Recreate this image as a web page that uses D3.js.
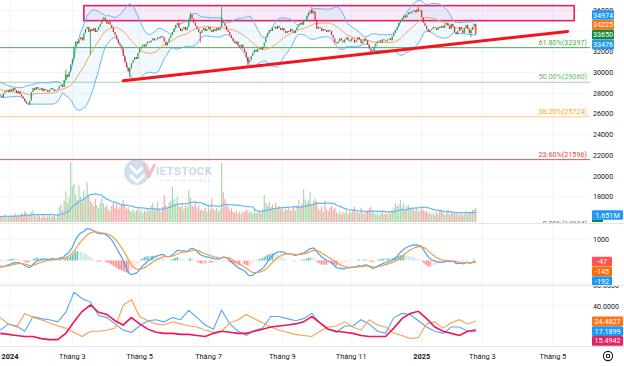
<!DOCTYPE html>
<html>
<head>
<meta charset="utf-8">
<script src="https://cdn.jsdelivr.net/npm/d3@7"></script>
<style>
  body { margin: 0; background: #fff; }
  svg { display: block; font-family: Roboto, "Noto Sans", sans-serif; }
</style>
</head>
<body>
<div id="chart"></div>
<script>
// late 2023 sessions, left of the frame (only feed the indicators)
var warmCloses = [29200, 29400, 29100, 29000, 29300, 29100, 28900, 29000, 28800, 28600,
  28900, 28700, 28500, 28700, 28400, 28600, 28300, 28100, 28400, 28200,
  28000, 28300, 28100, 27900, 28100, 27900];

// daily closes, one per session from late Dec 2023 to Feb 2025
var closes = [
  27800, 27600, 28000, 28200, 28300, 28100,
  28400, 28200, 28500, 28300, 28000, 28200, 27900, 27700, 27500, 27200,
  27000, 26900, 27300, 28100, 28500,
  28300, 28600, 28400, 28300, 28500, 28200, 28400, 28300, 28100, 28300, 28500, 28400, 28200, 28300, 28400,
  28700, 28800, 28600,
  29300, 29800, 29600, 30100,
  30800, 31300,
  32500, 33000,
  32800, 33200, 33400, 33100,
  33800, 34200, 34400, 33900, 34200,
  34000, 34300, 33900, 34100, 34400, 34700,
  35100, 35300,
  35000, 34700, 34900, 34600,
  34300, 33900, 33600,
  33200, 32800, 32600,
  32300, 31600, 31000,
  30500, 30100, 30400,
  30900, 31200, 31500, 31300,
  31900, 32300, 32500,
  32700, 32500, 32800, 33000, 32900, 33100, 33300, 33100, 33200, 33400, 33300, 33500, 33400,
  33000, 32600,
  32900, 33300, 33600, 33900,
  34300, 34600, 34800,
  34300, 34000, 34200, 34400, 34100, 34400,
  35100, 35600,
  35200, 34800, 34500, 34200, 33900, 33800,
  34100, 34300, 34000, 34200, 34400, 34100, 33900, 34200,
  34000, 34300, 34100, 34400,
  35000, 34800,
  34500, 34100, 33900, 33600, 33300, 33000,
  32800, 33000, 32600, 32400, 32700, 32300,
  32000, 31500, 31000, 31200,
  31600, 31900, 32200, 32000, 32300, 32400, 32200, 32500,
  32900, 33400, 33800, 34100,
  34000, 34300, 34400, 34200, 34500, 34300,
  34100, 34300, 34000, 33800, 34000, 33900, 34200, 34000, 33800, 34100,
  34400, 34600, 34800, 34600, 35000, 35100,
  35500, 35800, 36000, 35700, 35900,
  35000, 34200,
  34400, 34300, 34000, 34200, 34100, 33900, 34100, 34000,
  33600, 33300, 32900, 32800,
  33000, 33300, 33100, 32900, 33200, 33400, 33100, 33000, 33300, 33200, 32900, 33100,
  33400, 33200, 32800, 33000, 33300, 33100,
  32700, 32300, 32000, 32100, 32500,
  32800, 33000, 33100, 32900, 33200, 33100, 33000, 33200, 33300, 33100,
  33500, 33800, 34100, 34400, 34800, 35000,
  35200, 35500, 35300, 35600, 35800, 35700, 35900,
  36000, 35800, 36100, 35900, 36000,
  35300, 34800, 34500,
  34200, 33900, 34100,
  34200, 34400, 34300, 34100, 34400, 34300, 34500, 34300, 34600, 34800, 34500, 34200, 34700, 34400,
  33900, 33700, 34000,
  34400, 34100, 33800, 34300, 34600, 34200, 33800, 34100, 34400,
  34700, 33650
];

// daily volume, millions of shares
var volumes = [
  1.2, 1.5, 1.0, 1.8, 1.3, 1.1,
  1.4, 1.6, 1.2, 2.0, 1.3, 1.7, 1.5, 2.2, 1.8, 2.6,
  2.1, 1.5, 1.9, 2.4, 2.8,
  1.6, 1.2, 2.0, 1.4, 1.1, 1.7, 1.3, 1.0, 1.5, 1.8, 1.2, 1.4, 1.6, 1.1, 1.9,
  3.5, 4.2, 2.8,
  5.0, 7.3, 4.5, 6.0,
  14.2, 8.5,
  9.0, 6.5,
  5.2, 8.7, 6.0, 4.8,
  7.5, 5.5, 9.4, 6.2, 5.0,
  4.5, 3.8, 5.5, 4.0, 3.2, 4.6,
  5.8, 4.4,
  3.5, 4.0, 3.0, 2.6,
  3.8, 4.5, 3.3,
  4.2, 3.0, 3.6,
  4.4, 5.2, 3.9,
  3.1, 3.5, 2.8,
  2.4, 3.0, 2.2, 2.7,
  3.3, 2.5, 2.9,
  2.1, 2.8, 2.3, 3.5, 2.6, 3.9, 4.5, 2.8, 3.2, 4.8, 3.0, 2.5, 3.6,
  6.4, 4.0,
  3.4, 4.6, 5.0, 8.3,
  5.5, 4.2, 6.0,
  3.8, 3.5, 4.3, 3.0, 4.0, 3.6,
  7.5, 5.8,
  4.0, 3.6, 4.4, 3.2, 3.9, 2.8,
  3.0, 2.6, 3.4, 2.5, 3.8, 2.9, 5.6, 3.1,
  2.8, 3.3, 2.4, 3.0,
  14.0, 7.0,
  5.5, 4.0, 3.6, 2.7, 3.2, 2.5,
  2.2, 2.8, 2.0, 2.5, 1.9, 2.6,
  2.3, 3.0, 2.7, 2.2,
  2.5, 2.0, 2.7, 2.1, 2.4, 2.9, 2.2, 3.1,
  6.4, 4.5, 3.8, 4.8,
  3.5, 4.2, 3.0, 4.6, 3.2, 3.8,
  2.9, 3.6, 2.5, 3.1, 2.8, 3.4, 2.6, 3.0, 3.5, 2.7,
  4.0, 5.2, 3.6, 4.4, 7.8, 5.4,
  4.6, 5.2, 7.1, 4.2, 5.0,
  5.5, 4.8,
  3.2, 2.8, 3.6, 2.5, 5.0, 3.0, 2.6, 3.4,
  3.8, 2.9, 3.3, 2.4,
  2.0, 2.6, 1.8, 2.4, 2.1, 3.0, 1.9, 2.5, 2.2, 2.8, 3.6, 2.3,
  2.6, 2.0, 3.4, 2.2, 1.9, 2.5,
  2.8, 3.2, 3.6, 2.6, 2.2,
  1.8, 2.4, 1.6, 2.1, 2.8, 1.9, 2.3, 1.7, 2.5, 2.0,
  2.9, 3.4, 4.5, 3.8, 4.2, 5.2,
  3.6, 4.4, 3.0, 3.8, 4.1, 3.2, 3.5,
  3.0, 2.7, 3.3, 2.5, 2.9,
  3.6, 2.8, 2.4,
  2.6, 2.0, 2.3,
  1.8, 2.2, 1.6, 2.5, 1.9, 2.8, 3.0, 2.4, 1.7, 2.1, 2.9, 1.8, 2.6, 2.2,
  2.4, 1.9, 2.1,
  1.7, 2.3, 1.6, 2.0, 2.7, 1.8, 2.5, 2.2, 2.9,
  3.0, 3.3
];

// the longer shadows that stand out
var wicks = [
  { i: 40, hi: 30300 }, { i: 55, lo: 31700 }, { i: 79, lo: 29500 },
  { i: 116, hi: 35800 }, { i: 122, lo: 32900 }, { i: 135, hi: 36300 },
  { i: 151, lo: 30700 }, { i: 190, hi: 36300 }, { i: 227, lo: 31800 },
  { i: 255, hi: 36300 }, { i: 287, lo: 33400 }
];

// DMI read every 5 sessions
var dmiStep = 5;
var plusDI = [16, 22, 20, 15, 29, 27, 26, 24, 33, 52, 46, 43, 30, 28, 22, 16, 14, 20, 25, 26,
  24, 28, 26, 35, 28, 21, 17, 35, 22, 15, 11, 16, 18, 29, 29, 27, 25, 27, 32, 23,
  17, 14, 20, 20, 26, 22, 15, 13, 28, 32, 31, 25, 19, 15, 13, 19, 19, 15, 17.19];
var minusDI = [28, 22, 19, 32, 28, 26, 23, 20, 18, 14, 10, 15, 15, 16, 18, 40, 45, 29, 25, 22,
  21, 24, 22, 20, 19, 16, 14, 15, 23, 26, 31, 27, 23, 19, 16, 14, 12, 11, 10, 15,
  19, 20, 24, 19, 16, 26, 21, 19, 13, 11, 8, 9, 22, 24, 18, 23, 26, 22, 24.48];
var adx = [13, 12, 11, 10, 10, 8, 7, 7, 13, 24, 34, 40, 33, 31, 25, 21, 28, 22, 17, 14,
  13, 13, 12, 12, 11, 10, 13, 15, 14, 13, 13, 15, 17, 19, 20, 21, 22, 24, 29, 23,
  17, 15, 14, 13, 11, 10, 10, 10, 18, 27, 32, 34, 27, 19, 15, 13, 11, 15, 15.49];

var timeTicks = [
  { i: 6, label: '2024', year: true }, { i: 44, label: 'Tháng 3' }, { i: 85, label: 'Tháng 5' },
  { i: 127, label: 'Tháng 7' }, { i: 172, label: 'Tháng 9' }, { i: 214, label: 'Tháng 11' },
  { i: 257, label: '2025', year: true }, { i: 294, label: 'Tháng 3' }, { i: 337, label: 'Tháng 5' }
];
var priceTicks = [18000, 20000, 22000, 24000, 26000, 28000, 30000, 32000, 34000, 36000];
var macdTicks = [1000];
var dmiTicks = [40, 60];

var fibLevels = [
  { pct: '61.80%', v: 32397, color: '#4caf50' },
  { pct: '50.00%', v: 29060, color: '#66bb6a', line: '#a5d6a7' },
  { pct: '38.20%', v: 25724, color: '#ffa726', line: '#ffcc80' },
  { pct: '23.60%', v: 21596, color: '#f44336', line: '#ef5350' },
  { pct: '0.00%', v: 14924, color: '#787b86' }
];
var resistBox = { i0: 51, i1: 350, lo: 35000, hi: 36450 };
var trendLine = [{ i: 75, p: 29200 }, { i: 346, p: 33960 }];

var priceLabels = [
  { v: 34974, color: '#2196f3' }, { v: 34225, color: '#ff7417' },
  { v: 33650, color: '#13893a', anchor: true }, { v: 33476, color: '#2196f3' }
];
var volLabel = 1.651;
var macdLabels = [{ v: -47, color: '#ff5252', anchor: true }, { v: -145, color: '#ff6d00' }, { v: -192, color: '#2196f3' }];
var dmiLabels = [{ v: 24.4827, color: '#ff7417', anchor: true }, { v: 17.1899, color: '#2196f3' }, { v: 15.4942, color: '#e91e63' }];

var width = 624, height = 366, plotW = 590;
var pane = { price: [0, 223], macd: [224, 285], dmi: [286, 346] };

var svg = d3.select('#chart').append('svg').attr('width', width).attr('height', height);
var defs = svg.append('defs');
Object.keys(pane).forEach(function(k) {
  defs.append('clipPath').attr('id', 'clip-' + k).append('rect')
    .attr('x', 0).attr('y', pane[k][0]).attr('width', plotW).attr('height', pane[k][1] - pane[k][0]);
});

var x = d3.scaleLinear().domain([0, 359]).range([0.2, 589]);
var y = d3.scaleLinear().domain([18000, 36000]).range([196.9, 10.3]);
var vy = d3.scaleLinear().domain([0, 14.2]).range([222, 162]);
var my = d3.scaleLinear().domain([0, 1000]).range([260.5, 239]);
var dy = d3.scaleLinear().domain([0, 60]).range([347, 284]);

// indicators
var W = warmCloses.length, N = closes.length;
var all = warmCloses.concat(closes);
function ema(arr, n) {
  var k = 2 / (n + 1), prev, out = [];
  arr.forEach(function(v, i) { prev = i === 0 ? v : v * k + prev * (1 - k); out.push(prev); });
  return out;
}
var bb = closes.map(function(c, i) {
  var win = all.slice(i + W - 19, i + W + 1);
  var m = d3.mean(win), sd = Math.sqrt(d3.mean(win, function(v) { return (v - m) * (v - m); }));
  return { i: i, mid: m, up: m + 2 * sd, lo: m - 2 * sd };
});
var e12 = ema(all, 12), e26 = ema(all, 26);
var macdAll = e12.map(function(v, i) { return v - e26[i]; });
var sigAll = ema(macdAll, 9);
var macd = closes.map(function(c, i) {
  var m = macdAll[i + W], s = sigAll[i + W];
  return { i: i, m: m, s: s, h: m - s };
});
var volMA = volumes.map(function(v, i) {
  return { i: i, v: d3.mean(volumes.slice(Math.max(0, i - 19), i + 1)) };
});
var candles = closes.map(function(c, i) {
  var o = i === 0 ? warmCloses[W - 1] : closes[i - 1];
  return { i: i, o: o, c: c, up: c >= o };
});

// grid
var grid = svg.append('g');
timeTicks.forEach(function(t) {
  grid.append('line').attr('x1', x(t.i)).attr('x2', x(t.i)).attr('y1', 0).attr('y2', 346)
    .attr('stroke', '#f0f3fa').attr('stroke-width', 1);
});
priceTicks.forEach(function(p) {
  grid.append('line').attr('x1', 0).attr('x2', plotW).attr('y1', y(p)).attr('y2', y(p))
    .attr('stroke', '#f3f4f8');
});
macdTicks.forEach(function(v) {
  grid.append('line').attr('x1', 0).attr('x2', plotW).attr('y1', my(v)).attr('y2', my(v)).attr('stroke', '#f3f4f8');
});
dmiTicks.forEach(function(v) {
  grid.append('line').attr('x1', 0).attr('x2', plotW).attr('y1', dy(v)).attr('y2', dy(v)).attr('stroke', '#f3f4f8');
});

// ----- price pane -----
var gp = svg.append('g').attr('clip-path', 'url(#clip-price)');

// watermark
var wm = gp.append('g').attr('transform', 'translate(137,172)').attr('opacity', 0.55);
wm.append('circle').attr('r', 13).attr('fill', '#a9c7e6');
wm.append('path').attr('d', 'M-7,-6 L0,1 L7,-6 M-7,3 L0,10 L7,3').attr('fill', 'none')
  .attr('stroke', '#fff').attr('stroke-width', 3);
wm.append('path').attr('d', 'M6,-8 L12,4 L18,-8').attr('fill', 'none').attr('stroke', '#f08a8a').attr('stroke-width', 3);
wm.append('text').attr('x', 19).attr('y', 3).attr('font-size', 11).attr('font-weight', 700)
  .attr('fill', '#9fbbdb').attr('letter-spacing', 0.6).text('IETSTOCK');
wm.append('text').attr('x', 24).attr('y', 10).attr('font-size', 3.5).attr('fill', '#9fbbdb')
  .attr('letter-spacing', 1.6).text('FINTECH GLOBAL');

// fibonacci levels
fibLevels.forEach(function(f) {
  gp.append('line').attr('x1', 0).attr('x2', plotW).attr('y1', y(f.v)).attr('y2', y(f.v))
    .attr('stroke', f.line || f.color).attr('stroke-width', 1);
  gp.append('text').attr('x', 587).attr('y', y(f.v) - 3).attr('text-anchor', 'end')
    .attr('font-size', 7.2).attr('fill', f.color).text(f.pct + '(' + f.v + ')');
});

// resistance box
gp.append('rect').attr('x', x(resistBox.i0)).attr('y', y(resistBox.hi))
  .attr('width', x(resistBox.i1) - x(resistBox.i0)).attr('height', y(resistBox.lo) - y(resistBox.hi))
  .attr('fill', 'rgba(156,39,176,0.09)').attr('stroke', '#e91e63').attr('stroke-width', 1.6);

// bollinger bands
gp.append('path').datum(bb)
  .attr('d', d3.area().x(function(d) { return x(d.i); }).y0(function(d) { return y(d.lo); }).y1(function(d) { return y(d.up); }))
  .attr('fill', 'rgba(33,150,243,0.06)');
['up', 'lo'].forEach(function(k) {
  gp.append('path').datum(bb)
    .attr('d', d3.line().x(function(d) { return x(d.i); }).y(function(d) { return y(d[k]); }))
    .attr('fill', 'none').attr('stroke', '#64b5f6').attr('stroke-width', 1);
});
gp.append('path').datum(bb)
  .attr('d', d3.line().x(function(d) { return x(d.i); }).y(function(d) { return y(d.mid); }))
  .attr('fill', 'none').attr('stroke', '#f6a35e').attr('stroke-width', 1);

// volume
gp.selectAll('.vol').data(volumes).enter().append('rect')
  .attr('x', function(d, i) { return x(i) - 0.6; }).attr('width', 1.2)
  .attr('y', function(d) { return vy(d); }).attr('height', function(d) { return 222 - vy(d); })
  .attr('fill', function(d, i) { return candles[i].up ? '#a9d9ab' : '#f7a8a8'; });
gp.append('path').datum(volMA)
  .attr('d', d3.line().x(function(d) { return x(d.i); }).y(function(d) { return vy(d.v); }))
  .attr('fill', 'none').attr('stroke', '#64b5f6').attr('stroke-width', 1.2);

// trend line
gp.append('line').attr('x1', x(trendLine[0].i)).attr('y1', y(trendLine[0].p))
  .attr('x2', x(trendLine[1].i)).attr('y2', y(trendLine[1].p))
  .attr('stroke', '#f5131e').attr('stroke-width', 3).attr('stroke-linecap', 'round');

// candles
var upC = '#1f9e3b', dnC = '#ec1c2c';
wicks.forEach(function(w) {
  var c = candles[w.i];
  var top = Math.max(c.o, c.c), bot = Math.min(c.o, c.c);
  gp.append('line').attr('x1', x(w.i)).attr('x2', x(w.i))
    .attr('y1', y(w.hi || top)).attr('y2', y(w.lo || bot))
    .attr('stroke', c.up ? upC : dnC).attr('stroke-width', 0.8);
});
gp.selectAll('.candle').data(candles).enter().append('rect')
  .attr('x', function(d) { return x(d.i) - 0.6; }).attr('width', 1.2)
  .attr('y', function(d) { return y(Math.max(d.o, d.c)); })
  .attr('height', function(d) { return Math.max(0.8, Math.abs(y(d.o) - y(d.c))); })
  .attr('fill', function(d) { return d.up ? upC : dnC; });

// ----- MACD pane -----
var gm = svg.append('g').attr('clip-path', 'url(#clip-macd)');
gm.selectAll('.hist').data(macd).enter().append('rect')
  .attr('x', function(d) { return x(d.i) - 0.55; }).attr('width', 1.1)
  .attr('y', function(d) { return Math.min(my(d.h), my(0)); })
  .attr('height', function(d) { return Math.abs(my(d.h) - my(0)); })
  .attr('fill', function(d, i) {
    var prev = i > 0 ? macd[i - 1].h : d.h;
    if (d.h >= 0) return d.h >= prev ? '#26a69a' : '#b2dfdb';
    return d.h < prev ? '#ff5252' : '#ffcdd2';
  }).attr('opacity', 0.75);
gm.append('path').datum(macd)
  .attr('d', d3.line().x(function(d) { return x(d.i); }).y(function(d) { return my(d.m); }))
  .attr('fill', 'none').attr('stroke', '#4aa3f0').attr('stroke-width', 1.2);
gm.append('path').datum(macd)
  .attr('d', d3.line().x(function(d) { return x(d.i); }).y(function(d) { return my(d.s); }))
  .attr('fill', 'none').attr('stroke', '#f59a45').attr('stroke-width', 1.2);

// ----- DMI pane -----
var gd = svg.append('g').attr('clip-path', 'url(#clip-dmi)');
[[plusDI, '#55a8f0', 1.1], [minusDI, '#f7a04f', 1.1], [adx, '#f0145a', 1.6]].forEach(function(s) {
  gd.append('path').datum(s[0])
    .attr('d', d3.line().x(function(d, k) { return x(k * dmiStep); }).y(function(d) { return dy(d); }))
    .attr('fill', 'none').attr('stroke', s[1]).attr('stroke-width', s[2]);
});

// pane separators
[223.5, 285.5, 346.5].forEach(function(yy) {
  svg.append('line').attr('x1', 0).attr('x2', width).attr('y1', yy).attr('y2', yy)
    .attr('stroke', '#e3e5ea').attr('stroke-width', 1.2);
});

// ----- right axis -----
var axis = svg.append('g').attr('font-size', 7.2).attr('fill', '#131722');
defs.append('clipPath').attr('id', 'clip-axprice').append('rect').attr('x', 590).attr('y', 0).attr('width', 34).attr('height', 222);
defs.append('clipPath').attr('id', 'clip-axmacd').append('rect').attr('x', 590).attr('y', 224).attr('width', 34).attr('height', 61);
defs.append('clipPath').attr('id', 'clip-axdmi').append('rect').attr('x', 590).attr('y', 286).attr('width', 34).attr('height', 60);
var axP = axis.append('g').attr('clip-path', 'url(#clip-axprice)');
var axM = axis.append('g').attr('clip-path', 'url(#clip-axmacd)');
var axD = axis.append('g').attr('clip-path', 'url(#clip-axdmi)');

function stack(labels, scale, gap) {
  var a = labels.findIndex(function(d) { return d.anchor; });
  var ys = labels.map(function(d) { return scale(d.v); });
  var out = ys.slice();
  for (var k = a - 1; k >= 0; k--) out[k] = Math.min(ys[k], out[k + 1] - gap);
  for (var k2 = a + 1; k2 < labels.length; k2++) out[k2] = Math.max(ys[k2], out[k2 - 1] + gap);
  return out;
}
var priceLY = stack(priceLabels, y, 9.8);
// tick texts that sit fully under a value box are hidden, as on the original
function covered(yy, ly) {
  return ly.some(function(b) { return Math.abs(b - yy) < 4.5; });
}
priceTicks.forEach(function(p) {
  if (covered(y(p), priceLY)) return;
  axP.append('text').attr('x', 593).attr('y', y(p) + 2.5).text(p);
});
macdTicks.forEach(function(v) { axM.append('text').attr('x', 593).attr('y', my(v) + 2.5).text(v); });
dmiTicks.forEach(function(v) { axD.append('text').attr('x', 593).attr('y', dy(v) + 4).text(v.toFixed(4)); });

function boxes(g, labels, ly, w, fmt) {
  labels.forEach(function(d, k) {
    g.append('rect').attr('x', 592).attr('y', ly[k] - 4.8).attr('width', w).attr('height', 9.6)
      .attr('rx', 1).attr('fill', d.color);
    g.append('text').attr('x', 592 + w / 2).attr('y', ly[k] + 2.6).attr('text-anchor', 'middle')
      .attr('fill', '#fff').attr('font-size', 7.2).text(fmt(d.v));
  });
}
boxes(axP, priceLabels, priceLY, 22, function(v) { return v; });
axP.append('rect').attr('x', 592).attr('y', 219.5).attr('width', 11).attr('height', 8).attr('fill', '#13893a');
axP.append('rect').attr('x', 592).attr('y', vy(volLabel) - 4.8).attr('width', 31).attr('height', 9.6).attr('rx', 1).attr('fill', '#2196f3');
axP.append('text').attr('x', 607.5).attr('y', vy(volLabel) + 2.6).attr('text-anchor', 'middle')
  .attr('fill', '#fff').text(volLabel.toFixed(3) + 'M');
boxes(axM, macdLabels, stack(macdLabels, my, 9.8), 20, function(v) { return v; });
boxes(axD, dmiLabels, stack(dmiLabels, dy, 9.8), 31, function(v) { return v.toFixed(4); });

// ----- time axis -----
timeTicks.forEach(function(t) {
  svg.append('text').attr('x', x(t.i)).attr('y', 358.5).attr('text-anchor', 'middle')
    .attr('font-size', 7.4).attr('font-weight', t.year ? 700 : 400).attr('fill', '#131722').text(t.label);
});
var gear = svg.append('g').attr('transform', 'translate(608,356)').attr('fill', 'none').attr('stroke', '#131722');
gear.append('circle').attr('r', 4.6).attr('stroke-width', 1.1);
gear.append('circle').attr('r', 1.7).attr('stroke-width', 1.1);
</script>
</body>
</html>
